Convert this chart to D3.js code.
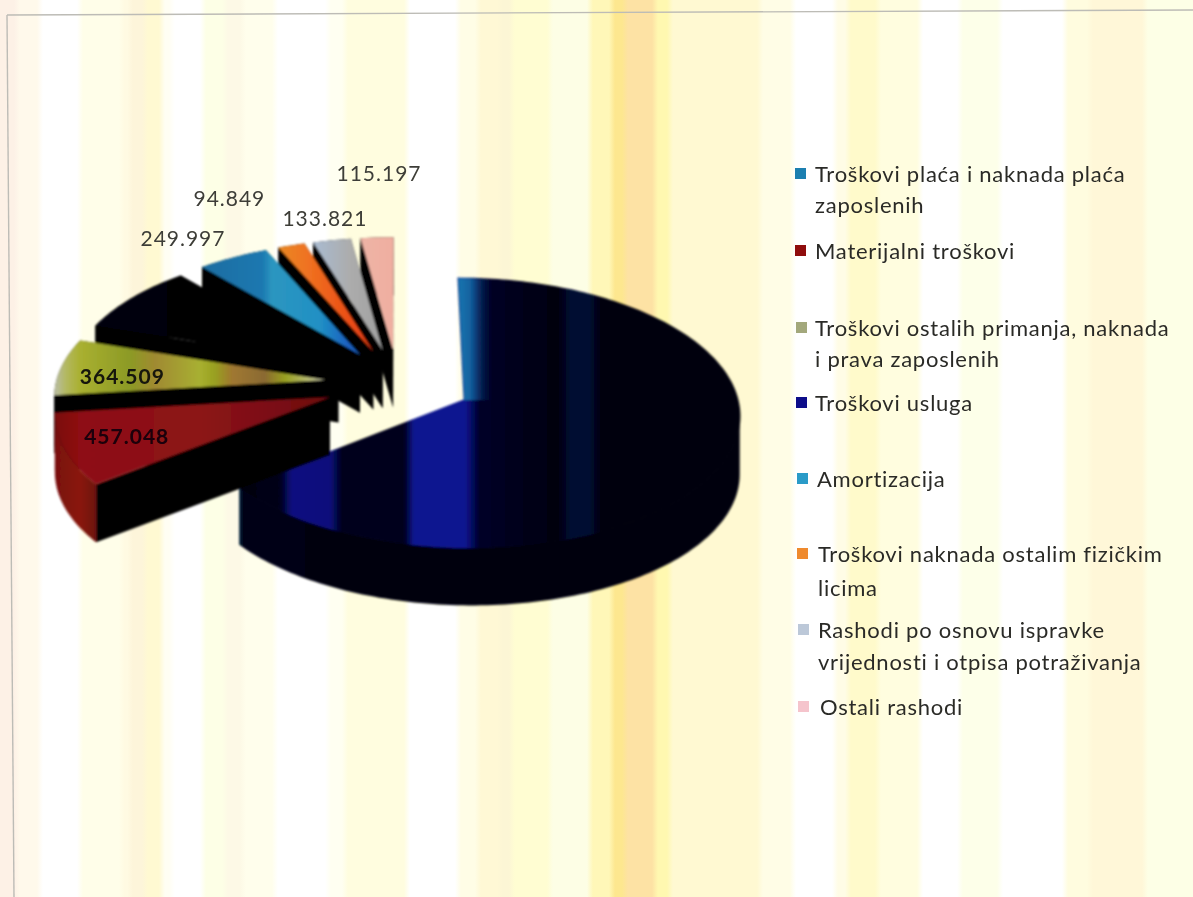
<!DOCTYPE html>
<html><head><meta charset="utf-8">
<script src="https://cdn.jsdelivr.net/npm/d3@7/dist/d3.min.js"></script>
<style>html,body{margin:0;padding:0;background:#fff}svg{display:block}text{font-family:Lato,"Open Sans",sans-serif}</style>
</head><body><svg id="c" width="1193" height="897"></svg>
<script>
// ---- data ----
const categories = [
  "Troškovi plaća i naknada plaća zaposlenih",
  "Materijalni troškovi",
  "Troškovi ostalih primanja, naknada i prava zaposlenih",
  "Troškovi usluga",
  "Amortizacija",
  "Troškovi naknada ostalim fizičkim licima",
  "Rashodi po osnovu ispravke vrijednosti i otpisa potraživanja",
  "Ostali rashodi"
];
const values = [3377000, 457048, 364509, 448000, 249997, 94849, 133821, 115197]; // first and fourth are estimates (their labels are unreadable)
const labelShown = [false, true, true, false, true, true, true, true];
const legendLines = [
  ["Troškovi plaća i naknada plaća","zaposlenih"],
  ["Materijalni troškovi"],
  ["Troškovi ostalih primanja, naknada","i prava zaposlenih"],
  ["Troškovi usluga"],
  ["Amortizacija"],
  ["Troškovi naknada ostalim fizičkim","licima"],
  ["Rashodi po osnovu ispravke","vrijednosti i otpisa potraživanja"],
  ["Ostali rashodi"]
];
const legendColors = ["#1f7fb0","#8f1010","#a3a87c","#0a0a8a","#2a9bc8","#ef8a2e","#bcc8d8","#f5c4cc"];

// ---- styling / layout ----
const stripes = [[0,"#fdeee0"],[17,"#fff8e6"],[40,"#ffffff"],[80,"#fffee4"],[122,"#fff9dc"],[130,"#fdf3d2"],[145,"#fff8c8"],[162,"#fffef0"],[172,"#ffffff"],[203,"#fdffe0"],[225,"#fdf8e0"],[243,"#fffee8"],[275,"#ffffff"],[328,"#ffffee"],[345,"#fffdd8"],[407,"#ffffff"],[458,"#fffce0"],[478,"#fff6cc"],[500,"#fbf4cc"],[512,"#fffcc8"],[550,"#fdfedf"],[590,"#fff7b8"],[612,"#fde78f"],[625,"#fde2a4"],[655,"#fff8b0"],[670,"#fff8c8"],[760,"#fffde0"],[793,"#ffffff"],[835,"#fffbe0"],[848,"#fff9c0"],[878,"#fffdd8"],[920,"#ffffff"],[960,"#fdffe4"],[1000,"#ffffff"],[1065,"#fffbd8"],[1090,"#fff5cf"],[1145,"#fdffe0"],[1193,""]];
const topStops = [
  [[236,"#00000a"],[280,"#00001a"],[292,"#0c0f80"],[330,"#0a0f7c"],[342,"#00001c"],[404,"#00001c"],[414,"#0b1590"],[465,"#0b1590"],[480,"#000028"],[558,"#00000e"],[570,"#060a30"],[590,"#060a30"],[602,"#00000c"],[738,"#00000a"]],
  [[57,"#7c0a0e"],[80,"#8e0e12"],[200,"#8c1416"],[330,"#6e0a10"]],
  [[57,"#b8bc98"],[66,"#b3b860"],[80,"#a9b030"],[130,"#8c9a26"],[155,"#a08a30"],[200,"#a8b030"],[215,"#98a020"],[232,"#a07830"],[265,"#8a6a30"],[285,"#98a020"],[325,"#d0d0b0"]],
  [[90,"#050008"],[340,"#030004"]],
  [[197,"#1c6ca0"],[262,"#1a78b0"],[272,"#2c96c0"],[320,"#2090c4"],[348,"#1a60c0"]],
  [[275,"#e88a20"],[310,"#f07020"],[372,"#e83a10"]],
  [[311,"#a9bcd4"],[350,"#acacac"],[383,"#a0a0a0"]],
  [[360,"#eeb4a6"],[393,"#f0aea0"]]
];
const sideStops = [
  [[236,"#0a3a60"],[243,"#000418"],[400,"#000008"],[738,"#00000a"]],
  [[57,"#7a1010"],[80,"#8a1a10"],[106,"#5a0a0a"]],
  null,null,null,null,null,null
];
const labelOffset = [null,[62,-14],[61,9],null,[-50,-20],[-62,-48],[-7,-23],[2,-65]];
const legendY = [173,250,327,402,478,553,629,706];
const legendLineGap = [31,0,31,0,0,34,32,0];
const legendTextX = [815,815,815,815,817,818,818,820];
const legendBoxX = [795,795,796,796,797,797,798,798];
const CX = 398, CY = 383.7, RX = 270, RY = 130, PERSP = 0.1, EXPLODE = 0.27, DEPTH = 58;

const svg = d3.select("#c");
const defs = svg.append("defs");
const grad = (id, stops) => {
  const g = defs.append("linearGradient").attr("id", id).attr("gradientUnits","userSpaceOnUse")
    .attr("x1",0).attr("x2",1193).attr("y1",0).attr("y2",0);
  g.selectAll("stop").data(stops).join("stop")
    .attr("offset", d => d[0]/1193).attr("stop-color", d => d[1]).attr("stop-opacity", d => d[2] === undefined ? 1 : d[2]);
};
defs.append("filter").attr("id","soft").append("feGaussianBlur").attr("stdDeviation",0.8);
defs.append("filter").attr("id","softT").append("feGaussianBlur").attr("stdDeviation",0.45);

// background: soft-edged vertical stripes
const soften = d3.interpolateRgb;
const bgStops = stripes.slice(0,-1).flatMap((d,i) => {
  const x0 = d[0], x1 = stripes[i+1][0], m = Math.min(3,(x1-x0)/3);
  const col = x0 >= 590 && x0 < 670 ? d[1] : soften(d[1],"#ffffff")(0.18);
  return [[x0+m,col],[x1-m,col]];
});
grad("bg", bgStops);
svg.append("rect").attr("width",1193).attr("height",897).attr("fill","url(#bg)");
svg.append("g").attr("stroke","#bdbcb6").attr("stroke-width",1.4).attr("fill","none").attr("filter","url(#softT)")
  .selectAll("path").data([[[7,15],[1193,10]],[[7,15],[14,897]]]).join("path").attr("d", d3.line());

// pie geometry through a small perspective projection
const pie = d3.pie().sort(null).value(d => d).startAngle(0).endAngle(2*Math.PI);
const arcs = pie(values);
const project = (X, Y, drop = 0) => {
  const s = 1/(1 + PERSP*Y);
  return [CX + X*RX*s, CY - Y*RY*s + drop];
};
const apex = a => { const m = (a.startAngle + a.endAngle)/2; return [EXPLODE*Math.sin(m), EXPLODE*Math.cos(m)]; };
const rim = (a, t, drop = 0) => { const v = apex(a); return project(v[0] + Math.sin(t), v[1] + Math.cos(t), drop); };
const samples = a => { const n = Math.max(4, Math.ceil((a.endAngle-a.startAngle)/0.02)); return d3.range(n+1).map(i => a.startAngle + (a.endAngle-a.startAngle)*i/n); };
const line = d3.line();
const pieG = svg.append("g").attr("filter","url(#soft)");
topStops.forEach((s,i) => grad("top"+i, s));
sideStops.forEach((s,i) => { if (s) grad("side"+i, s); });
grad("teal", [[455,"#1a7ab2",1],[470,"#146ca4",0.9],[492,"#0a2a70",0]]);

// painter's order: main slice first, then back to front through the exploded slices
const order = [0,7,6,5,4,3,2,1];
order.forEach(i => {
  const a = arcs[i], ts = samples(a), v = apex(a);
  const ctr = project(v[0], v[1]), ctrD = project(v[0], v[1], DEPTH);
  const g = pieG.append("g");
  const wall = t => line([ctr, rim(a,t), rim(a,t,DEPTH), ctrD]);
  if (i !== 0) {
    g.append("path").attr("d", wall(a.endAngle)).attr("fill","#040404");
    g.append("path").attr("d", wall(a.startAngle)).attr("fill","#040404");
  }
  // the main slice only shows the front part of its rim wall, from its rightmost point on
  const tRight = d3.greatest(ts, t => rim(a,t)[0]);
  const band = i === 0 ? ts.filter(t => t >= tRight) : ts;
  g.append("path").attr("d", line(band.map(t => rim(a,t)).concat(band.slice().reverse().map(t => rim(a,t,DEPTH)))))
    .attr("fill", sideStops[i] ? `url(#side${i})` : "#040404");
  const topPath = line([ctr].concat(ts.map(t => rim(a,t))));
  g.append("path").attr("d", topPath).attr("fill", `url(#top${i})`)
    .attr("stroke", `url(#top${i})`).attr("stroke-width", i === 0 ? 1.5 : 0);
  if (i === 0) {
    defs.append("clipPath").attr("id","mainClip").append("path").attr("d", topPath);
    g.append("rect").attr("x",440).attr("y",270).attr("width",60).attr("height",130)
      .attr("fill","url(#teal)").attr("clip-path","url(#mainClip)");
  }
});

// value labels
const fmt = d3.formatLocale({decimal:",",thousands:".",grouping:[3],currency:["",""]}).format(",d");
svg.append("g").attr("filter","url(#softT)").selectAll("text")
  .data(arcs.map((a,i) => ({a,i})).filter(d => labelShown[d.i])).join("text")
  .attr("text-anchor","middle").attr("dominant-baseline","central")
  .attr("font-size",21).attr("letter-spacing",1)
  .attr("font-weight", d => d.i === 1 || d.i === 2 ? 700 : 400)
  .attr("fill", d => d.i === 1 ? "#1a0608" : d.i === 2 ? "#14140a" : "#3e3e38")
  .attr("transform", d => {
    const p = rim(d.a,(d.a.startAngle+d.a.endAngle)/2);
    return `translate(${p[0]+labelOffset[d.i][0]},${p[1]+labelOffset[d.i][1]})`;
  })
  .text(d => fmt(d.a.value));

// legend
const lg = svg.append("g").attr("filter","url(#softT)");
categories.forEach((c,i) => {
  lg.append("rect").attr("x",legendBoxX[i]).attr("y",legendY[i]-5).attr("width",11).attr("height",11).attr("fill",legendColors[i]);
  legendLines[i].forEach((t,k) => {
    lg.append("text").attr("x",legendTextX[i]).attr("y",legendY[i]+k*legendLineGap[i])
      .attr("dominant-baseline","central").attr("font-size",22).attr("letter-spacing",0.75).attr("fill","#2b2b28").text(t);
  });
});
</script></body></html>
